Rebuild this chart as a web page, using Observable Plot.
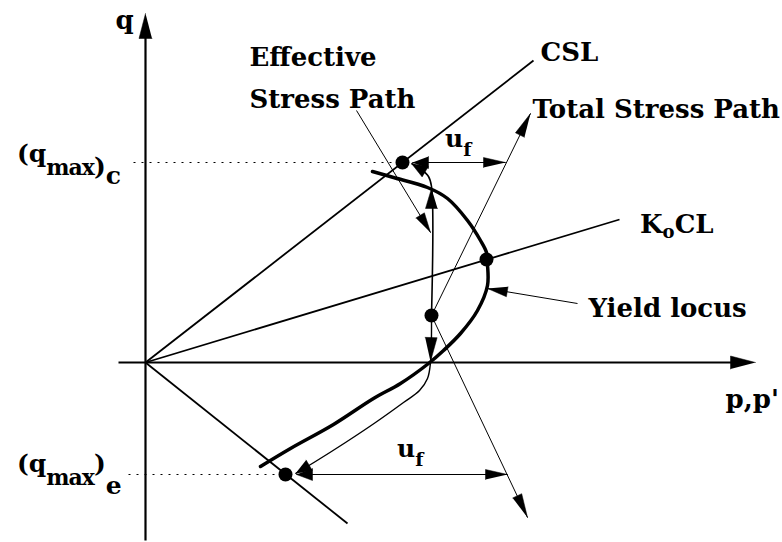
<!DOCTYPE html>
<html>
<head>
<meta charset="utf-8">
<script src="https://cdn.jsdelivr.net/npm/d3@7"></script>
<script src="https://cdn.jsdelivr.net/npm/@observablehq/plot@0.6"></script>
<style>
  html, body { margin: 0; padding: 0; background: #fff; }
  #chart svg { display: block; }
</style>
</head>
<body>
<div id="chart"></div>
<script>
// Undrained stress paths in p–q space (schematic, arbitrary stress units).
const W = 782, H = 542;
const FONT = "DejaVu Serif";
const SIZE = 26;

// Axes
const pAxis = [[-27, 0], [610, 0]];
const qAxis = [[0, -178], [0, 349]];

// Reference lines through the origin
const cslLine = [[0, 0], [388, 302]];
const k0clLine = [[0, 0], [474, 143]];
const extensionLine = [[0, 0], [202, -161]];

// Stress states: peak in compression, peak in extension, K0 yield, initial state
const statesP = [257, 140, 341, 286];
const statesQ = [200, -112, 103, 47];

// Yield locus
const yieldLocus = [
  [227, 191], [248, 185], [282, 175], [302, 164], [322, 142], [335, 122],
  [341, 110], [342, 98], [342, 77], [332, 52], [315, 29], [298, 12],
  [283, -1], [255, -21], [228, -36], [188, -62], [145, -86], [115, -104]
];

// Effective stress paths from the initial state
const espCompression = [[286, 47], [286, 176], [283, 186], [276, 193], [266, 199]];
const espExtension = [
  [286, 47], [285, 0], [282, -16], [274, -28], [258, -40],
  [230, -60], [200, -80], [170, -99], [150, -111]
];

// Total stress paths from the initial state
const tspCompression = [[286, 47], [385, 249]];
const tspExtension = [[286, 47], [382, -155]];

// Excess pore pressure at failure (u_f)
const ufCompression = [[267, 200], [360, 200]];
const ufExtension = [[151, -112], [362, -112]];

// Guides to the q axis
const qmaxC = [[-12, 200], [250, 200]];
const qmaxE = [[-17, -112], [135, -112]];

// Label pointers
const espPointer = [[211, 252], [285, 130]];
const ylPointer = [[432, 59], [342, 74]];

// Plain labels
const labelText = ["q", "Effective", "Stress Path", "CSL", "Total Stress Path", "Yield locus", "p,p'"];
const labelP = [-30, 104, 104, 395, 387, 443, 580];
const labelQ = [334, 297, 255, 302, 245, 46, -45];

// Labels with subscripts: [text, baseline shift, font size, letter spacing]
const richLabels = [
  {p: -128, q: 200, parts: [["(q", 0, 25, 0], ["max", 13, 22, -1], [")", 13, 25, 0], ["c", 22, 25, 0]]},
  {p: -128, q: -110, parts: [["(q", 0, 25, 0], ["max", 13, 22, -1], [")", 0, 25, 0], ["e", 22, 25, 0]]},
  {p: 495, q: 129, parts: [["K", 0, SIZE, 0], ["o", 5, 18, 0], ["CL", 0, SIZE, 0]]},
  {p: 300, q: 215, parts: [["u", 0, 25, 0], ["f", 9, 19, 0]]},
  {p: 252, q: -95, parts: [["u", 0, 25, 0], ["f", 9, 19, 0]]}
];

// Filled triangular arrowhead at `tip`, pointing away from `from`
function head(tip, from, len, half) {
  const dx = tip[0] - from[0], dy = tip[1] - from[1];
  const d = Math.hypot(dx, dy), ux = dx / d, uy = dy / d;
  const bx = tip[0] - len * ux, by = tip[1] - len * uy;
  return [tip, [bx - half * uy, by + half * ux], [bx + half * uy, by - half * ux]];
}
const last = (a) => a[a.length - 1];
const prev = (a) => a[a.length - 2];
// Shorten the final segment so a thick stroke stays under its arrowhead
function trim(a, by) {
  const t = last(a), f = prev(a);
  const d = Math.hypot(t[0] - f[0], t[1] - f[1]);
  return [...a.slice(0, -1), [t[0] - (t[0] - f[0]) * by / d, t[1] - (t[1] - f[1]) * by / d]];
}

const heads = [
  head(last(pAxis), prev(pAxis), 25, 6.5),
  head(last(qAxis), prev(qAxis), 25, 6.5),
  head(last(tspCompression), tspCompression[0], 24, 5),
  head(last(tspExtension), tspExtension[0], 24, 5),
  head(ufCompression[1], ufCompression[0], 22, 5),
  head(ufCompression[0], ufCompression[1], 16, 6),
  head(ufExtension[1], ufExtension[0], 22, 5),
  head(ufExtension[0], ufExtension[1], 16, 6),
  head([286, 174], [286, 120], 20, 6),
  head(last(espCompression), prev(espCompression), 16, 6),
  head([285, 1], [286, 40], 24, 6),
  head(last(espExtension), prev(espExtension), 16, 6),
  head(last(espPointer), espPointer[0], 20, 5),
  head(last(ylPointer), ylPointer[0], 20, 5)
].flatMap((tri, i) => tri.map(([p, q]) => ({id: i, p, q})));

const line = (data, o = {}) => Plot.line(data, {x: (d) => d[0], y: (d) => d[1], stroke: "black", strokeLinecap: "butt", ...o});

const plot = Plot.plot({
  width: W,
  height: H,
  margin: 0,
  style: {background: "#fff"},
  x: {domain: [-145, 637], axis: null},
  y: {domain: [-180, 362], axis: null},
  marks: [
    line(qmaxC, {strokeWidth: 1, strokeDasharray: "2,6"}),
    line(qmaxE, {strokeWidth: 1, strokeDasharray: "2,6"}),
    line(trim(pAxis, 12), {strokeWidth: 2.2}),
    line(trim(qAxis, 12), {strokeWidth: 2.2}),
    line(cslLine, {strokeWidth: 1.8}),
    line(k0clLine, {strokeWidth: 1.8}),
    line(extensionLine, {strokeWidth: 1.8}),
    line(yieldLocus, {strokeWidth: 3.5, curve: "catmull-rom", strokeLinecap: "round"}),
    line(espCompression, {strokeWidth: 1.6, curve: "catmull-rom"}),
    line(espExtension, {strokeWidth: 1.4, curve: "catmull-rom"}),
    line(tspCompression, {strokeWidth: 1}),
    line(tspExtension, {strokeWidth: 1}),
    line(ufCompression, {strokeWidth: 1}),
    line(ufExtension, {strokeWidth: 1}),
    line(espPointer, {strokeWidth: 1}),
    line(ylPointer, {strokeWidth: 1}),
    Plot.line(heads, {x: "p", y: "q", z: "id", fill: "black", stroke: "black", strokeWidth: 0.5}),
    Plot.dot(statesP, {x: (d) => d, y: (d, i) => statesQ[i], r: 7, fill: "black", stroke: null}),
    Plot.text(labelText, {
      x: (d, i) => labelP[i], y: (d, i) => labelQ[i], text: (d) => d,
      textAnchor: "start", lineAnchor: "bottom",
      fontFamily: FONT, fontWeight: "bold", fontSize: SIZE, fill: "black"
    })
  ]
});

// Subscripted labels placed with the plot's own scales
const sx = plot.scale("x"), sy = plot.scale("y");
const svg = d3.select(plot);
for (const lab of richLabels) {
  const t = svg.append("text")
    .attr("x", sx.apply(lab.p))
    .attr("y", sy.apply(lab.q))
    .attr("text-anchor", "start")
    .attr("font-family", FONT)
    .attr("font-weight", "bold")
    .attr("fill", "black");
  let shift = 0;
  for (const [s, dy, fs, ls] of lab.parts) {
    t.append("tspan")
      .attr("dy", dy - shift)
      .attr("font-size", fs)
      .attr("letter-spacing", ls)
      .text(s);
    shift = dy;
  }
}

document.getElementById("chart").appendChild(plot);
</script>
</body>
</html>
